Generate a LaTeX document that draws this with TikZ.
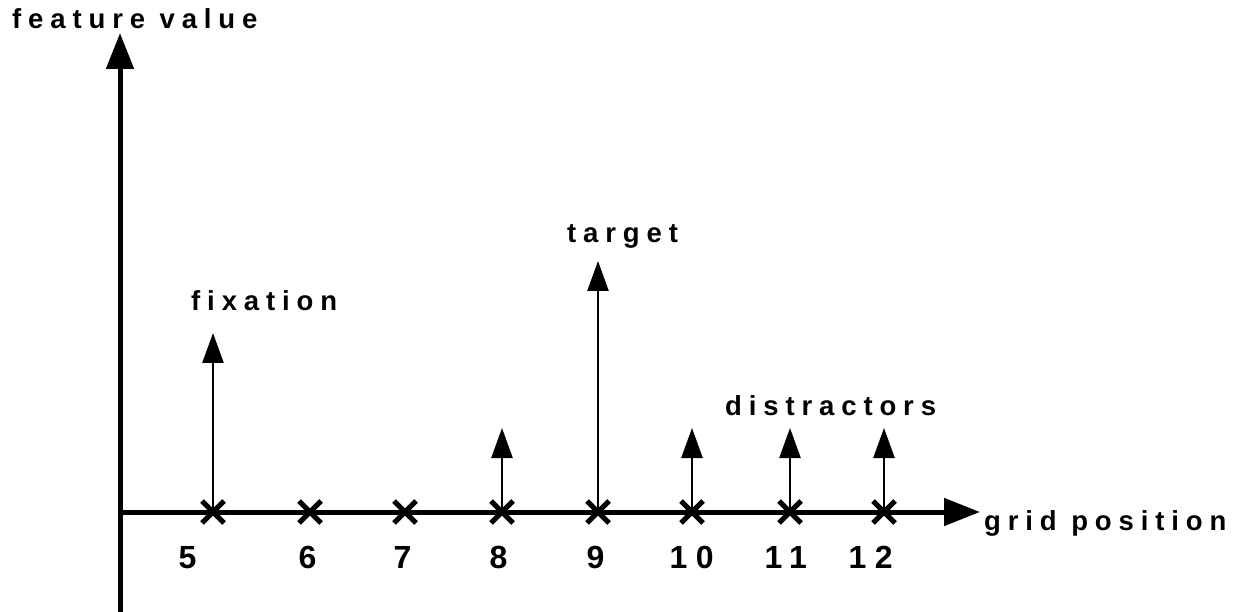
\documentclass[tikz,border=0pt]{standalone}
\usepackage{fontspec}
\newfontfamily\spacedfont{Liberation Sans Bold}[LetterSpace=25]
\newfontfamily\numberfont{Liberation Sans Bold}[LetterSpace=26]
\usetikzlibrary{arrows.meta}

\begin{document}
\begin{tikzpicture}[
    x=1pt, y=-1pt,
    axis/.style={line width=5pt, -{Triangle[length=36pt,width=27pt]}},
    stem/.style={line width=2.5pt, -{Triangle[length=30pt,width=21pt]}},
    cross/.style={line width=5pt},
    lbl/.style={font=\spacedfont\fontsize{27.5}{30}\selectfont, anchor=base west, inner sep=0pt},
    num/.style={font=\numberfont\fontsize{32}{36}\selectfont, anchor=base west, inner sep=0pt}
]
\useasboundingbox (0,0) rectangle (1235,612);

% Axes
\coordinate (origin) at (120,512);
\coordinate (ybot) at (120,612);
\coordinate (ytop) at (120,33);
\coordinate (xstart) at (117.5,512);
\coordinate (xend) at (980,512);
\draw[axis] (ybot) -- (ytop);
\draw[axis] (xstart) -- (xend);

% Grid positions
\foreach \n/\x in {5/213,6/310,7/405,8/502,9/598,10/692,11/790,12/884}{
  \coordinate (g\n) at (\x,512);
  \draw[cross] ([shift={(-11,-11)}]g\n) -- ([shift={(11,11)}]g\n);
  \draw[cross] ([shift={(-11,11)}]g\n) -- ([shift={(11,-11)}]g\n);
}

% Feature values
\coordinate (fix) at (213,333);
\coordinate (tgt) at (598,261);
\foreach \n/\x in {8/502,10/692,11/790,12/884}
  \coordinate (d\n) at (\x,428);
\draw[stem] (g5) -- (fix);
\draw[stem] (g9) -- (tgt);
\foreach \n in {8,10,11,12}
  \draw[stem] (g\n) -- (d\n);

% Labels
\node[lbl] (ylabel) at (12,29) {feature value};
\node[lbl] (xlabel) at (984,530) {grid position};
\node[lbl] (fixlabel) at (191,311) {fixation};
\node[lbl] (tgtlabel) at (567,243) {target};
\node[lbl] (dislabel) at (725,415) {distractors};

% Numbers
\foreach \n/\x in {5/178.5,6/298.5,7/393.5,8/489.5,9/586.5,10/669.5,11/764.5,12/848.5}
  \node[num] (n\n) at (\x,568) {\n};

\end{tikzpicture}
\end{document}
